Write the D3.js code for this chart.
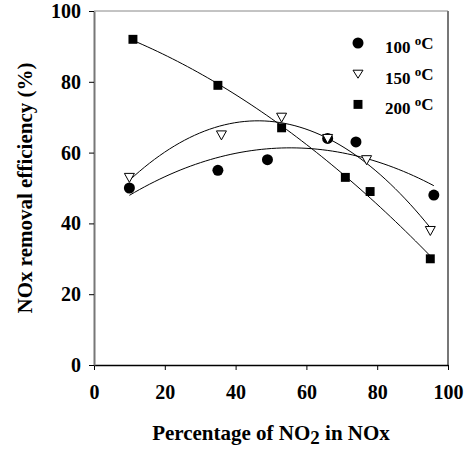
<!DOCTYPE html>
<html>
<head>
<meta charset="utf-8">
<script src="https://cdn.jsdelivr.net/npm/d3@7/dist/d3.min.js"></script>
<style>
  body { margin: 0; background: #fff; }
  text { font-family: "Liberation Serif", "Times New Roman", serif; font-weight: bold; }
</style>
</head>
<body>
<div id="chart"></div>
<script>
// values
const x100 = [10, 35, 49, 66, 74, 96],
      y100 = [50, 55, 58, 64, 63, 48];
const x150 = [10, 36, 53, 66, 77, 95],
      y150 = [53, 65, 70, 64, 58, 38];
const x200 = [11, 35, 53, 71, 78, 95],
      y200 = [92, 79, 67, 53, 49, 30];
const xTicks = [0, 20, 40, 60, 80, 100],
      yTicks = [0, 20, 40, 60, 80, 100];
const labels = ['100', '150', '200'];

const width  = 467,
      height = 450,
      margin = {top: 11, right: 19, bottom: 85, left: 94};

const x = d3.scaleLinear().domain([0, 100]).range([margin.left, width - margin.right]);
const y = d3.scaleLinear().domain([0, 100]).range([height - margin.bottom, margin.top]);

const svg = d3.select('#chart').append('svg')
  .attr('width', width)
  .attr('height', height);

// frame: top + right in grey
svg.append('line')
  .attr('x1', x(0)).attr('x2', x(100))
  .attr('y1', y(100)).attr('y2', y(100))
  .attr('stroke', '#888').attr('stroke-width', 1);
svg.append('line')
  .attr('x1', x(100)).attr('x2', x(100))
  .attr('y1', y(100)).attr('y2', y(0))
  .attr('stroke', '#777').attr('stroke-width', 2);

const gx = svg.append('g')
  .attr('transform', `translate(0,${y(0)})`)
  .call(d3.axisBottom(x).tickValues(xTicks).tickSize(5).tickSizeOuter(0).tickPadding(15));
gx.select('.domain').attr('stroke', '#000').attr('stroke-width', 1.5);

const gy = svg.append('g')
  .attr('transform', `translate(${x(0)},0)`)
  .call(d3.axisLeft(y).tickValues(yTicks).tickSize(5).tickSizeOuter(0).tickPadding(8));
gy.select('.domain').attr('stroke', '#777').attr('stroke-width', 2);

svg.selectAll('.tick text')
  .attr('font-family', '"Liberation Serif", serif')
  .attr('font-weight', 'bold')
  .attr('font-size', 20)
  .attr('fill', '#000');
svg.selectAll('.tick line').attr('stroke', '#000');

// axis titles
const xt = svg.append('text')
  .attr('x', (x(0) + x(100)) / 2)
  .attr('y', 440)
  .attr('text-anchor', 'middle')
  .attr('font-size', 21);
xt.append('tspan').text('Percentage of NO');
xt.append('tspan').attr('dy', 4).attr('font-size', 19).text('2');
xt.append('tspan').attr('dy', -4).text(' in NOx');

svg.append('text')
  .attr('transform', `translate(32,${(y(0) + y(100)) / 2}) rotate(-90)`)
  .attr('text-anchor', 'middle')
  .attr('font-size', 21)
  .text('NOx removal efficiency (%)');

// quadratic least squares fit
function fit2(xs, ys) {
  let s = [0, 0, 0, 0, 0], t = [0, 0, 0];
  xs.forEach((v, i) => {
    for (let k = 0; k < 5; k++) s[k] += Math.pow(v, k);
    for (let k = 0; k < 3; k++) t[k] += ys[i] * Math.pow(v, k);
  });
  const m = [[s[0], s[1], s[2], t[0]], [s[1], s[2], s[3], t[1]], [s[2], s[3], s[4], t[2]]];
  for (let c = 0; c < 3; c++) {
    for (let r = c + 1; r < 3; r++) {
      const f = m[r][c] / m[c][c];
      for (let k = c; k < 4; k++) m[r][k] -= f * m[c][k];
    }
  }
  const b = [0, 0, 0];
  for (let r = 2; r >= 0; r--) {
    let v = m[r][3];
    for (let k = r + 1; k < 3; k++) v -= m[r][k] * b[k];
    b[r] = v / m[r][r];
  }
  return v => b[0] + b[1] * v + b[2] * v * v;
}

const line = d3.line().x(d => x(d[0])).y(d => y(d[1]));
[[x100, y100], [x150, y150], [x200, y200]].forEach(([xs, ys]) => {
  const f = fit2(xs, ys);
  const [lo, hi] = d3.extent(xs);
  const pts = d3.range(0, 61).map(i => lo + (hi - lo) * i / 60).map(v => [v, f(v)]);
  svg.append('path')
    .attr('d', line(pts))
    .attr('fill', 'none')
    .attr('stroke', '#000')
    .attr('stroke-width', 1);
});

// markers
const circle = d3.symbol().type(d3.symbolCircle).size(95);
const square = d3.symbol().type(d3.symbolSquare).size(80);
const tri = 'M-5,-4L5,-4L0,5Z';

function drawSeries(xs, ys, kind) {
  xs.forEach((v, i) => {
    const g = svg.append('g').attr('transform', `translate(${x(v)},${y(ys[i])})`);
    if (kind === 0) g.append('path').attr('d', circle()).attr('fill', '#000');
    if (kind === 1) g.append('path').attr('d', tri).attr('fill', '#fff').attr('stroke', '#000').attr('stroke-width', 1);
    if (kind === 2) g.append('path').attr('d', square()).attr('fill', '#000');
  });
}
drawSeries(x100, y100, 0);
drawSeries(x150, y150, 1);
drawSeries(x200, y200, 2);

// legend
labels.forEach((lab, i) => {
  const ly = 43 + i * 30.7;
  const g = svg.append('g').attr('transform', `translate(358,${ly})`);
  if (i === 0) g.append('path').attr('d', circle()).attr('fill', '#000');
  if (i === 1) g.append('path').attr('d', 'M-5,-3.5L5,-3.5L0,4.5Z').attr('fill', '#fff').attr('stroke', '#000');
  if (i === 2) g.append('path').attr('d', square()).attr('fill', '#000');
  const t = svg.append('text')
    .attr('x', 385)
    .attr('y', ly + 10)
    .attr('font-size', 17);
  t.append('tspan').text(lab + ' ');
  t.append('tspan').attr('dy', -8).attr('font-size', 13).text('o');
  t.append('tspan').attr('dy', 4).text('C');
});
</script>
</body>
</html>
